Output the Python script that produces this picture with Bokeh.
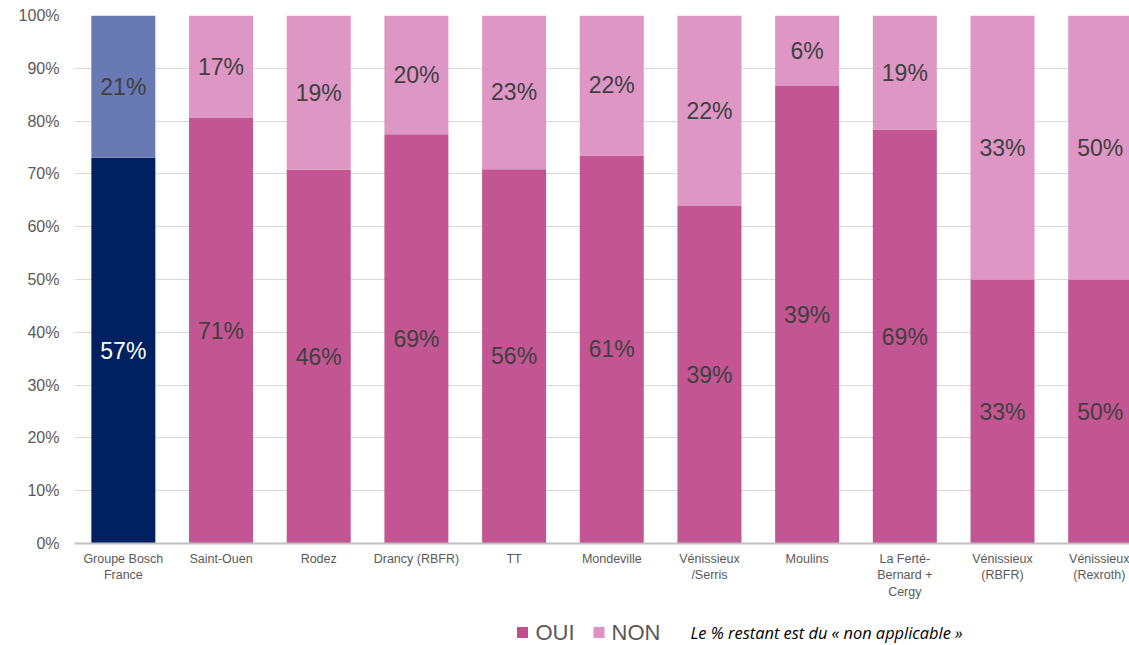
from bokeh.plotting import figure
from bokeh.layouts import column
from bokeh.models import ColumnDataSource, FixedTicker, Range1d
from bokeh.embed import file_html
from bokeh.resources import INLINE
from bokeh.core.properties import value

# ---- data ----
sites = ["Groupe Bosch\nFrance", "Saint-Ouen", "Rodez", "Drancy (RBFR)", "TT", "Mondeville",
         "Vénissieux\n/Serris", "Moulins", "La Ferté-\nBernard +\nCergy", "Vénissieux\n(RBFR)",
         "Vénissieux\n(Rexroth)"]
oui = [57, 71, 46, 69, 56, 61, 39, 39, 69, 33, 50]
non = [21, 17, 19, 20, 23, 22, 22, 6, 19, 33, 50]
y_ticks = [0, 10, 20, 30, 40, 50, 60, 70, 80, 90, 100]
series_names = ["OUI", "NON"]
note_text = "Le % restant est du « non applicable »"

PINK = "#C04E8E"
PINK_L = "#DD92C3"
NAVY = "#00205F"
NAVY_L = "#6879B3"
TXT = "#595959"
LBL = "#404040"
FONT = value("Liberation Sans")

idx = list(range(len(sites)))
share_oui = [o / (o + n) * 100 for o, n in zip(oui, non)]
oui_col = [NAVY if i == 0 else PINK for i in idx]
non_col = [NAVY_L if i == 0 else PINK_L for i in idx]
alpha = [1.0 if i == 0 else 0.96 for i in idx]
oui_lbl_col = ["white" if i == 0 else LBL for i in idx]

src = ColumnDataSource(dict(
    x=idx, oui_top=share_oui, zero=[0] * len(idx), full=[100] * len(idx),
    oui_col=oui_col, non_col=non_col, alpha=alpha,
    oui_mid=[s / 2 for s in share_oui], non_mid=[(s + 100) / 2 for s in share_oui],
    oui_txt=[f"{v}%" for v in oui], non_txt=[f"{v}%" for v in non],
    oui_lbl_col=oui_lbl_col,
))

p = figure(width=1129, height=603, x_range=Range1d(-0.5, 10.3), y_range=Range1d(0, 100),
           output_backend="svg", toolbar_location=None,
           min_border_left=74, min_border_right=0, min_border_top=15, min_border_bottom=60)
p.outline_line_color = None

p.vbar(x="x", bottom="zero", top="oui_top", width=0.655, source=src,
       fill_color="oui_col", fill_alpha="alpha", line_color=None)
p.vbar(x="x", bottom="oui_top", top="full", width=0.655, source=src,
       fill_color="non_col", fill_alpha="alpha", line_color=None)

p.text(x="x", y="oui_mid", text="oui_txt", source=src, text_align="center",
       text_baseline="middle", text_font_size="23px", text_color="oui_lbl_col",
       text_font=FONT)
p.text(x="x", y="non_mid", text="non_txt", source=src, text_align="center",
       text_baseline="middle", text_font_size="23px", text_color=LBL,
       text_font=FONT)

p.xgrid.grid_line_color = None
p.ygrid.grid_line_color = "#D9D9D9"
p.ygrid.ticker = FixedTicker(ticks=y_ticks)

p.yaxis.ticker = FixedTicker(ticks=y_ticks)
p.yaxis.major_label_overrides = {t: f"{t}%" for t in y_ticks}
p.yaxis.axis_line_color = None
p.yaxis.major_tick_line_color = None
p.yaxis.minor_tick_line_color = None
p.yaxis.major_label_text_font_size = "16px"
p.yaxis.major_label_text_color = TXT
p.yaxis.major_label_text_font = "Liberation Sans"
p.yaxis.major_label_standoff = 9

p.xaxis.ticker = FixedTicker(ticks=idx)
p.xaxis.major_label_overrides = {i: s for i, s in zip(idx, sites)}
p.xaxis.axis_line_color = "#BFBFBF"
p.xaxis.axis_line_width = 2
p.xaxis.major_tick_line_color = None
p.xaxis.minor_tick_line_color = None
p.xaxis.major_label_text_font_size = "12.5px"
p.xaxis.major_label_text_color = TXT
p.xaxis.major_label_text_font = "Liberation Sans"
p.xaxis.major_label_standoff = 2

# ---- legend strip (frame aligned with main frame: x from 74 to 1129 px) ----
lg = figure(width=1129, height=42, x_range=Range1d(74, 1129), y_range=Range1d(0, 42),
            output_backend="svg", toolbar_location=None,
            min_border_left=74, min_border_right=0, min_border_top=0, min_border_bottom=0)
lg.axis.visible = False
lg.grid.visible = False
lg.outline_line_color = None

sw = ColumnDataSource(dict(x=[522, 598.5], y=[13, 13], c=[PINK, PINK_L],
                           tx=[535, 611], t=series_names))
lg.scatter(x="x", y="y", marker="square", size=11, fill_color="c", line_color=None, source=sw)
lg.text(x="tx", y="y", text="t", source=sw, text_align="left", text_baseline="middle",
        text_font_size="22px", text_color=TXT, text_font=FONT)
lg.text(x=[690], y=[13], text=[note_text], text_align="left", text_baseline="middle",
        text_font_size="16.4px", text_color="black", text_font=value("Open Sans"),
        text_font_style="italic")

layout = column(p, lg, spacing=0)
open("out.html", "w").write(file_html(layout, INLINE))
